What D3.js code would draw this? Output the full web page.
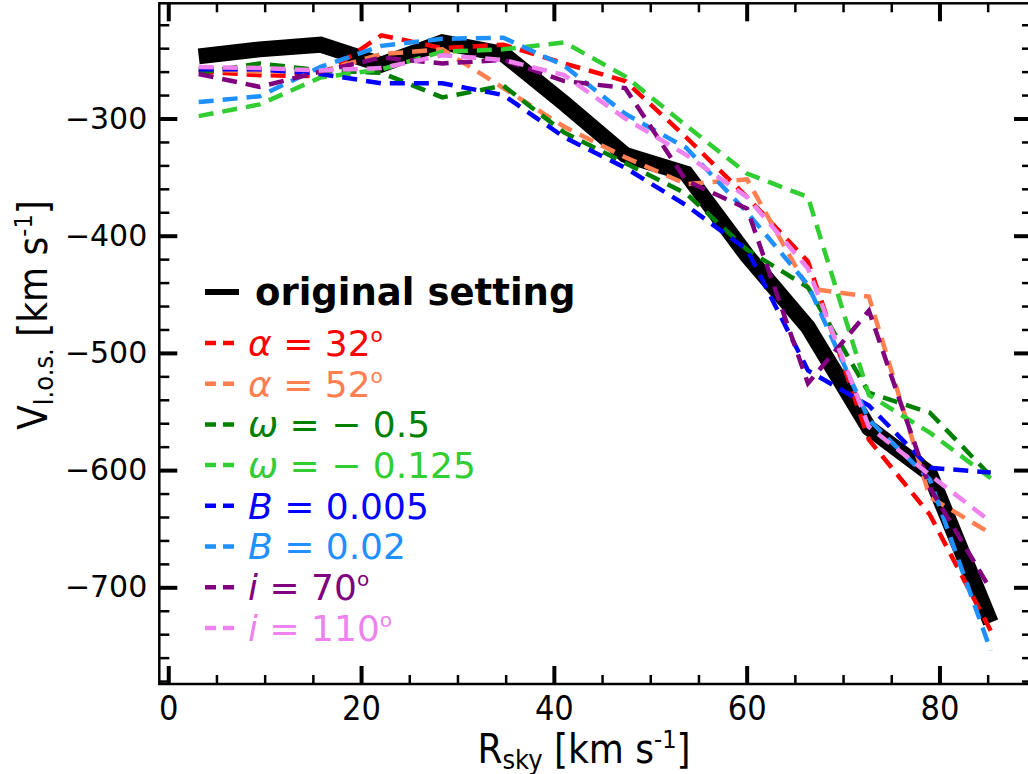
<!DOCTYPE html>
<html>
<head>
<meta charset="utf-8">
<script src="https://cdn.jsdelivr.net/npm/d3@7"></script>
<style>
  html, body { margin: 0; padding: 0; background: #fff; }
  svg { display: block; overflow: hidden; }
</style>
</head>
<body>
<div id="chart"></div>
<script>
// R_sky positions of the bins
const rSky = [3.16, 9.48, 15.8, 22.12, 28.44, 34.76, 41.08, 47.4, 53.72, 60.04, 66.36, 72.68, 79.0, 85.32];

// line-of-sight velocities, one array per run
const original = [-247, -241, -237, -254, -235, -245, -287, -331, -347, -417, -478, -564, -603, -730];
const alpha32  = [-260, -263, -264, -229, -240, -237, -253, -268, -316, -367, -422, -574, -638, -737];
const alpha52  = [-258, -260, -260, -245, -241, -274, -307, -333, -356, -352, -445, -452, -623, -654];
const omega05  = [-261, -253, -259, -261, -282, -272, -312, -338, -364, -412, -444, -534, -551, -605];
const omega0125 = [-298, -288, -265, -258, -243, -241, -235, -264, -306, -347, -367, -536, -568, -607];
const b0005    = [-258, -258, -262, -270, -270, -280, -316, -342, -374, -412, -515, -545, -598, -602];
const b002     = [-286, -281, -256, -238, -232, -231, -255, -296, -325, -380, -442, -557, -608, -754];
const inc70    = [-262, -273, -260, -248, -253, -250, -268, -274, -353, -377, -526, -464, -615, -702];
const inc110   = [-256, -257, -259, -257, -246, -250, -263, -300, -331, -367, -428, -563, -604, -644];

const xTicks = [0, 20, 40, 60, 80];
const yTicks = [-300, -400, -500, -600, -700];

const runs = [
  {vals: alpha32,   color: "#ff0000", sym: "α", rest: " = 32", deg: true},
  {vals: alpha52,   color: "#ff7f50", sym: "α", rest: " = 52", deg: true},
  {vals: omega05,   color: "#008000", sym: "ω", rest: " = − 0.5", deg: false},
  {vals: omega0125, color: "#32cd32", sym: "ω", rest: " = − 0.125", deg: false},
  {vals: b0005,     color: "#0000ff", sym: "B", rest: " = 0.005", deg: false},
  {vals: b002,      color: "#1e90ff", sym: "B", rest: " = 0.02", deg: false},
  {vals: inc70,     color: "#800080", sym: "i", rest: " = 70", deg: true},
  {vals: inc110,    color: "#ee82ee", sym: "i", rest: " = 110", deg: true}
];

let W = 1028, H = 774;
let plot = {left: 159.3, right: 1032, top: 3.3, bottom: 684};

let svg = d3.select('#chart').append('svg')
  .attr('width', W)
  .attr('height', H);

let x = d3.scaleLinear().domain([-0.93, 89.6]).range([plot.left, plot.right]);
let y = d3.scaleLinear().domain([-782.5, -201.7]).range([plot.bottom, plot.top]);

let line = d3.line()
  .x((d, i) => x(rSky[i]))
  .y(d => y(d));

svg.append('clipPath').attr('id', 'clip')
  .append('rect')
  .attr('x', plot.left).attr('y', plot.top)
  .attr('width', plot.right - plot.left).attr('height', plot.bottom - plot.top);

let g = svg.append('g').attr('clip-path', 'url(#clip)');

// original setting underneath
g.append('path')
  .datum(original)
  .attr('d', line)
  .attr('fill', 'none')
  .attr('stroke', '#000')
  .attr('stroke-width', 16)
  .attr('stroke-linejoin', 'miter');

runs.forEach(r => {
  g.append('path')
    .datum(r.vals)
    .attr('d', line)
    .attr('fill', 'none')
    .attr('stroke', r.color)
    .attr('stroke-width', 4.5)
    .attr('stroke-dasharray', '15,9');
});

// axes: ticks inward on all four sides
let minorX = d3.range(0, 90, 5).filter(v => v % 20 !== 0);
let minorY = d3.range(-780, -200, 20).filter(v => v % 100 !== 0);

let axBottom = svg.append('g').attr('transform', `translate(0,${plot.bottom})`);
axBottom.call(d3.axisBottom(x).tickValues(xTicks).tickSize(-18).tickPadding(12).tickFormat(d3.format('d')));
axBottom.append('g').call(d3.axisBottom(x).tickValues(minorX).tickSize(-9).tickFormat(''));
axBottom.selectAll('.tick text')
  .attr('font-family', '"Liberation Sans Narrow", "DejaVu Sans Condensed", sans-serif')
  .attr('font-size', 34).attr('fill', '#000');

let axTop = svg.append('g').attr('transform', `translate(0,${plot.top})`);
axTop.call(d3.axisTop(x).tickValues(xTicks).tickSize(-18).tickFormat(''));
axTop.append('g').call(d3.axisTop(x).tickValues(minorX).tickSize(-9).tickFormat(''));

let axLeft = svg.append('g').attr('transform', `translate(${plot.left},0)`);
axLeft.call(d3.axisLeft(y).tickValues(yTicks).tickSize(-18).tickPadding(12).tickFormat(d => '−' + Math.abs(d)));
axLeft.append('g').call(d3.axisLeft(y).tickValues(minorY).tickSize(-10).tickFormat(''));
axLeft.selectAll('.tick text')
  .attr('font-family', '"DejaVu Sans", sans-serif')
  .attr('font-size', 30).attr('fill', '#000');

let axRight = svg.append('g').attr('transform', `translate(${plot.right},0)`);
axRight.call(d3.axisRight(y).tickValues(yTicks).tickSize(-18).tickFormat(''));
axRight.append('g').call(d3.axisRight(y).tickValues(minorY).tickSize(-10).tickFormat(''));

// major ticks thicker than minor ones
[axBottom, axTop, axLeft, axRight].forEach(a => {
  a.selectAll('.domain').remove();
  a.selectAll('.tick line').attr('stroke', '#000');
  a.selectAll(':scope > .tick line').attr('stroke-width', 4);
  a.selectAll('g g .tick line').attr('stroke-width', 2.5);
});

// frame
svg.append('rect')
  .attr('x', plot.left).attr('y', plot.top)
  .attr('width', plot.right - plot.left).attr('height', plot.bottom - plot.top)
  .attr('fill', 'none').attr('stroke', '#000').attr('stroke-width', 2.5);

// axis titles
let titleFont = '"Liberation Sans Narrow", "DejaVu Sans Condensed", sans-serif';
let xt = svg.append('text')
  .attr('x', 584).attr('y', 763)
  .attr('text-anchor', 'middle')
  .attr('font-family', titleFont).attr('font-size', 40);
xt.append('tspan').text('R');
xt.append('tspan').attr('font-size', 27).attr('dy', 6).text('sky');
xt.append('tspan').attr('dy', -6).text(' [km s');
xt.append('tspan').attr('font-size', 25).attr('dy', -15).text('-1');
xt.append('tspan').attr('dy', 15).text(']');

let yt = svg.append('text')
  .attr('transform', 'translate(47,315) rotate(-90)')
  .attr('text-anchor', 'middle')
  .attr('font-family', titleFont).attr('font-size', 40);
yt.append('tspan').text('V');
yt.append('tspan').attr('font-size', 27).attr('dy', 6).text('l.o.s.');
yt.append('tspan').attr('dy', -6).text(' [km s');
yt.append('tspan').attr('font-size', 25).attr('dy', -15).text('-1');
yt.append('tspan').attr('dy', 15).text(']');

// legend
let leg = svg.append('g');
leg.append('line')
  .attr('x1', 205).attr('x2', 239).attr('y1', 292).attr('y2', 292)
  .attr('stroke', '#000').attr('stroke-width', 6);
leg.append('text')
  .attr('x', 255).attr('y', 292).attr('dy', '0.35em')
  .attr('font-family', '"DejaVu Sans", sans-serif')
  .attr('font-weight', 'bold').attr('font-size', 37)
  .text('original setting');

runs.forEach((r, i) => {
  let yy = 343 + i * 40.7;
  leg.append('line')
    .attr('x1', 205).attr('x2', 234).attr('y1', yy).attr('y2', yy)
    .attr('stroke', r.color).attr('stroke-width', 4.5)
    .attr('stroke-dasharray', '11,7');
  let t = leg.append('text')
    .attr('x', 248).attr('y', yy).attr('dy', '0.36em')
    .attr('font-family', '"DejaVu Sans", sans-serif')
    .attr('font-size', 36).attr('fill', r.color)
    .attr('xml:space', 'preserve');
  t.append('tspan').attr('font-style', 'italic').text(r.sym);
  t.append('tspan').text(r.rest);
  if (r.deg) {
    t.append('tspan').attr('font-size', 20).attr('dy', -14).text('o');
  }
});
</script>
</body>
</html>
